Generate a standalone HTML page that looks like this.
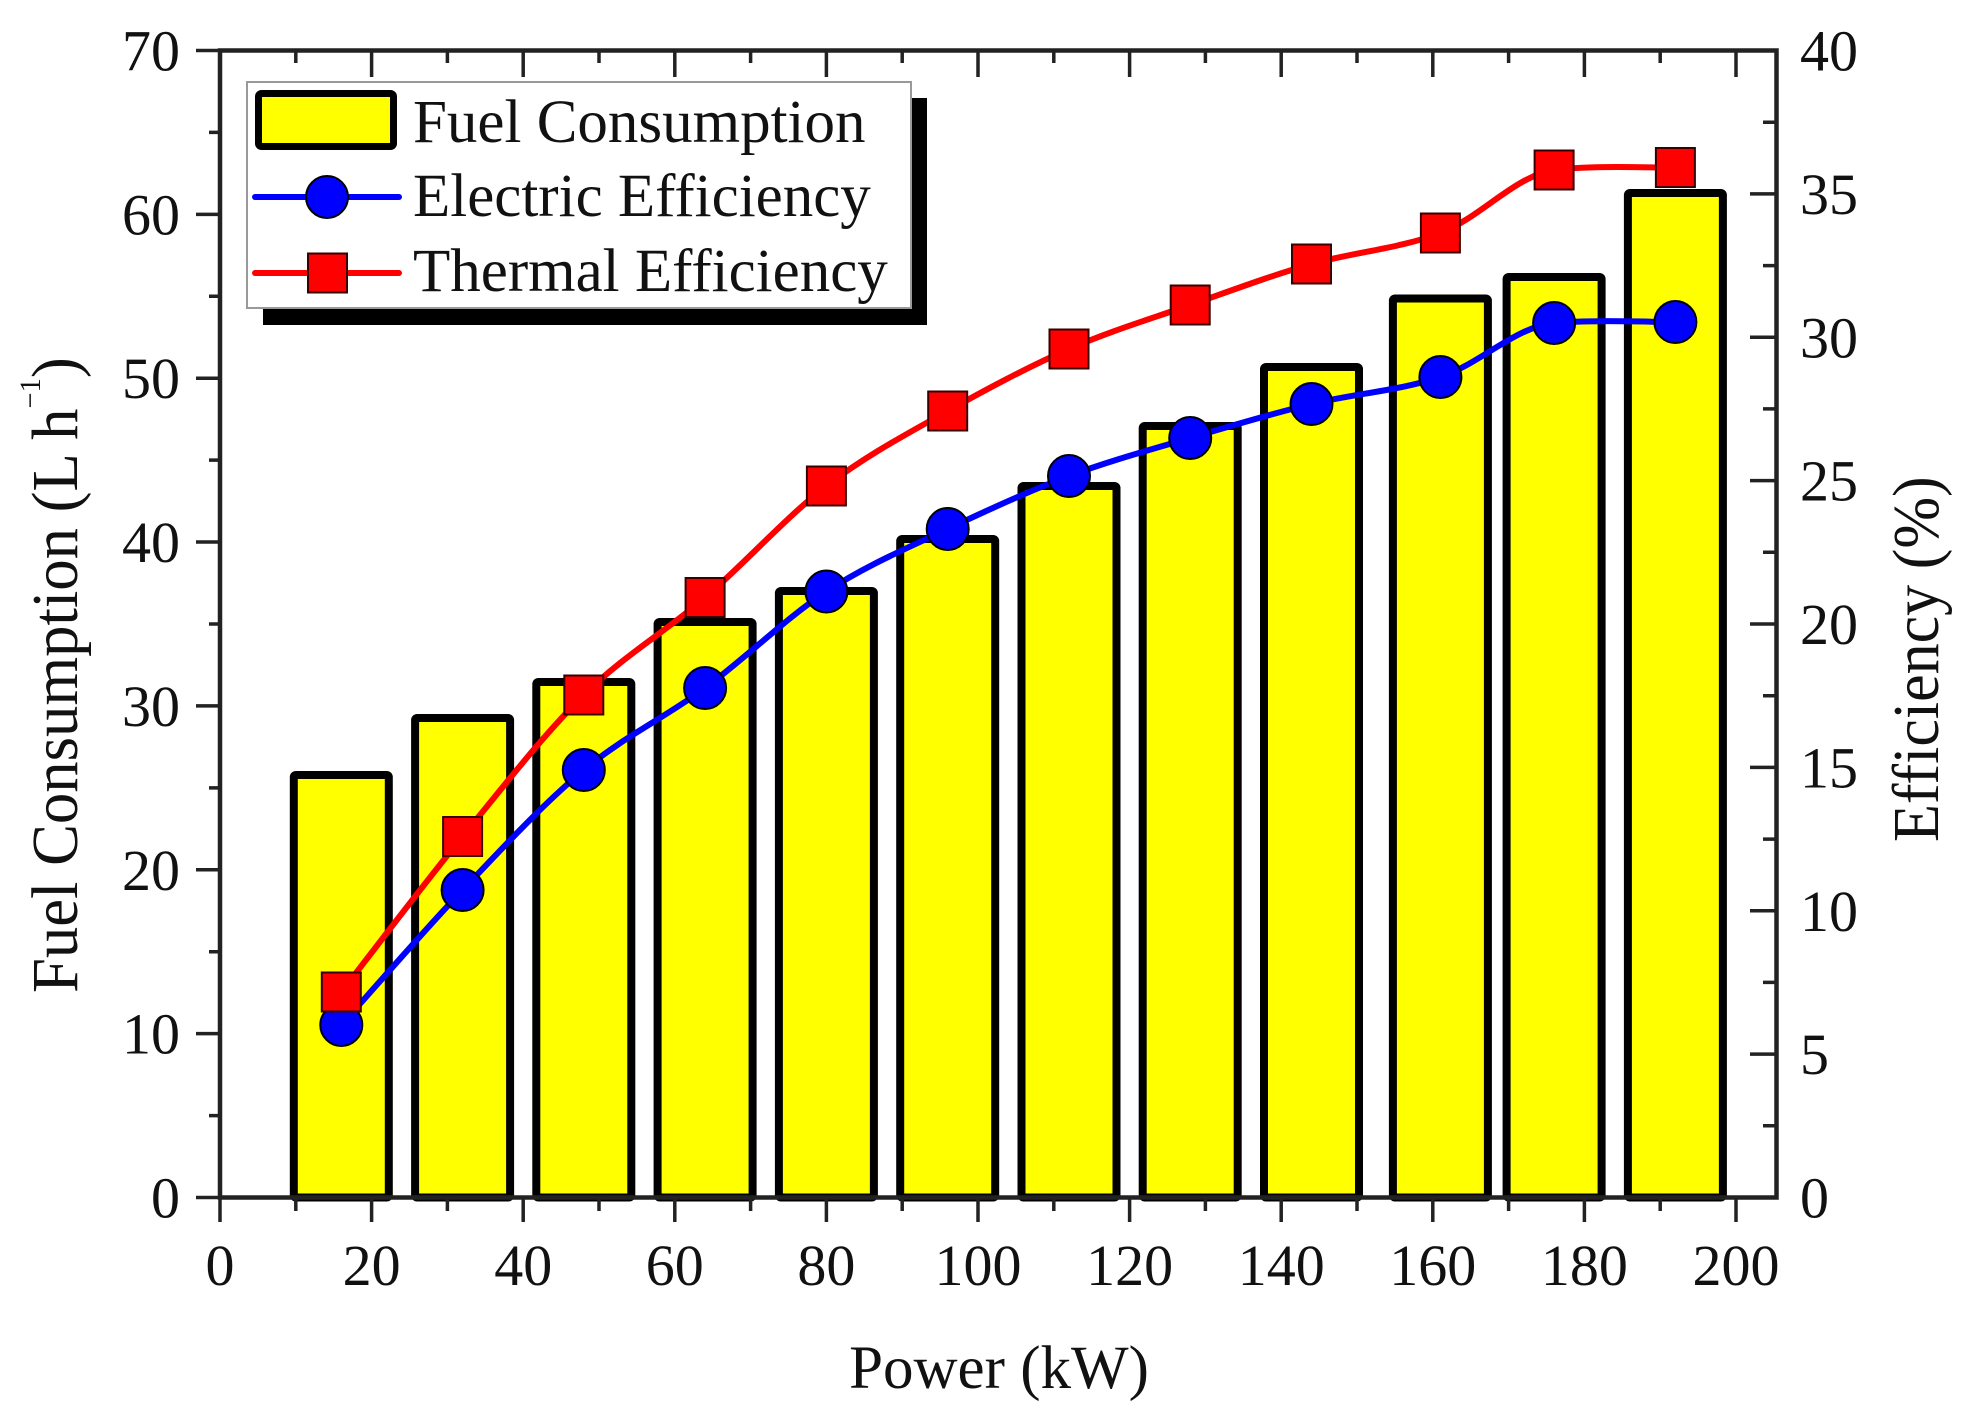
<!DOCTYPE html>
<html>
<head>
<meta charset="utf-8">
<style>
  html, body { margin:0; padding:0; background:#fff; }
  svg { display:block; }
  text { font-family: "Liberation Serif", "Times New Roman", serif; fill:#111; }
</style>
</head>
<body>
<svg width="1975" height="1420" viewBox="0 0 1975 1420" xmlns="http://www.w3.org/2000/svg">
  <rect x="0" y="0" width="1975" height="1420" fill="#fff"/>

  <!-- Bars -->
  <g fill="#ffff00" stroke="#000" stroke-width="8" stroke-linejoin="round">
    <rect x="293.8" y="775" width="95" height="422.5" rx="2"/>
    <rect x="415.1" y="718" width="95" height="479.5" rx="2"/>
    <rect x="536.3" y="682" width="95" height="515.5" rx="2"/>
    <rect x="657.6" y="622" width="95" height="575.5" rx="2"/>
    <rect x="778.9" y="591" width="95" height="606.5" rx="2"/>
    <rect x="900.2" y="539" width="95" height="658.5" rx="2"/>
    <rect x="1021.5" y="486" width="95" height="711.5" rx="2"/>
    <rect x="1142.7" y="426" width="95" height="771.5" rx="2"/>
    <rect x="1264.0" y="367" width="95" height="830.5" rx="2"/>
    <rect x="1392.9" y="298.5" width="95" height="899" rx="2"/>
    <rect x="1506.6" y="277" width="95" height="920.5" rx="2"/>
    <rect x="1627.9" y="193" width="95" height="1004.5" rx="2"/>
  </g>

  <!-- Electric efficiency line -->
  <path fill="none" stroke="#0000ff" stroke-width="6" stroke-linecap="round" stroke-linejoin="round"
    d="M341.3 1025
       C361.5 1002.5 422.2 932.5 462.6 890
       C503.0 847.5 543.4 803.7 583.8 770
       C624.2 736.3 664.7 717.75 705.1 688
       C745.5 658.25 786.0 618 826.4 591.5
       C866.8 565 907.3 548.25 947.7 529
       C988.1 509.75 1028.6 491.17 1069.0 476
       C1109.4 460.83 1149.8 450 1190.2 438
       C1230.6 426 1269.8 414.17 1311.5 404
       C1353.2 393.83 1400.0 390.5 1440.4 377
       C1480.8 363.5 1514.9 327 1554.1 323
       C1593.3 319.5 1655.2 322.17 1675.4 322"/>
  <g fill="#0000ff" stroke="#000" stroke-width="2">
    <circle cx="341.3" cy="1025" r="21"/>
    <circle cx="462.6" cy="890" r="21"/>
    <circle cx="583.8" cy="770" r="21"/>
    <circle cx="705.1" cy="688" r="21"/>
    <circle cx="826.4" cy="591.5" r="21"/>
    <circle cx="947.7" cy="529" r="21"/>
    <circle cx="1069.0" cy="476" r="21"/>
    <circle cx="1190.2" cy="438" r="21"/>
    <circle cx="1311.5" cy="404" r="21"/>
    <circle cx="1440.4" cy="377" r="21"/>
    <circle cx="1554.1" cy="323" r="21"/>
    <circle cx="1675.4" cy="322" r="21"/>
  </g>

  <!-- Thermal efficiency line -->
  <path fill="none" stroke="#ff0000" stroke-width="6" stroke-linecap="round" stroke-linejoin="round"
    d="M341.3 992
       C361.5 966.08 422.2 886 462.6 836.5
       C503.0 787 543.4 734.83 583.8 695
       C624.2 655.17 664.7 632.33 705.1 597.5
       C745.5 562.67 786.0 517.08 826.4 486
       C866.8 454.92 907.3 433.83 947.7 411
       C988.1 388.17 1028.6 366.67 1069.0 349
       C1109.4 331.33 1149.8 319.17 1190.2 305
       C1230.6 290.83 1269.8 276 1311.5 264
       C1353.2 252 1400.0 248.67 1440.4 233
       C1480.8 217.33 1514.9 176 1554.1 170
       C1593.3 165 1655.2 167.9 1675.4 167.5"/>
  <g fill="#ff0000" stroke="#3a0000" stroke-width="2">
    <rect x="321.8" y="972.5" width="39" height="39"/>
    <rect x="443.1" y="817" width="39" height="39"/>
    <rect x="564.3" y="675.5" width="39" height="39"/>
    <rect x="685.6" y="578" width="39" height="39"/>
    <rect x="806.9" y="466.5" width="39" height="39"/>
    <rect x="928.2" y="391.5" width="39" height="39"/>
    <rect x="1049.5" y="329.5" width="39" height="39"/>
    <rect x="1170.7" y="285.5" width="39" height="39"/>
    <rect x="1292.0" y="244.5" width="39" height="39"/>
    <rect x="1420.9" y="213.5" width="39" height="39"/>
    <rect x="1534.6" y="150.5" width="39" height="39"/>
    <rect x="1655.9" y="148" width="39" height="39"/>
  </g>

  <!-- Axes frame -->
  <rect x="220" y="50.5" width="1556.5" height="1147" fill="none" stroke="#222" stroke-width="4.5"/>

  <!-- Ticks -->
  <g stroke="#222" stroke-width="3.5" fill="none">
    <path d="M196 1197.5H220 M196 1033.64H220 M196 869.78H220 M196 705.92H220 M196 542.06H220 M196 378.2H220 M196 214.34H220 M196 50.5H220"/>
    <path d="M209 1115.57H220 M209 951.71H220 M209 787.85H220 M209 623.99H220 M209 460.13H220 M209 296.27H220 M209 132.41H220"/>
    <path d="M1750 1197.5H1776.5 M1750 1054.1H1776.5 M1750 910.75H1776.5 M1750 767.4H1776.5 M1750 624H1776.5 M1750 480.6H1776.5 M1750 337.25H1776.5 M1750 193.9H1776.5 M1750 50.5H1776.5"/>
    <path d="M1763 1125.8H1776.5 M1763 982.4H1776.5 M1763 839.1H1776.5 M1763 695.7H1776.5 M1763 552.3H1776.5 M1763 408.9H1776.5 M1763 265.6H1776.5 M1763 122.2H1776.5"/>
    <path d="M220 1197.5V1222 M371.6 1197.5V1222 M523.2 1197.5V1222 M674.8 1197.5V1222 M826.4 1197.5V1222 M978 1197.5V1222 M1129.6 1197.5V1222 M1281.2 1197.5V1222 M1432.8 1197.5V1222 M1584.4 1197.5V1222 M1736 1197.5V1222"/>
    <path d="M295.8 1197.5V1211 M447.4 1197.5V1211 M599 1197.5V1211 M750.6 1197.5V1211 M902.2 1197.5V1211 M1053.8 1197.5V1211 M1205.4 1197.5V1211 M1357 1197.5V1211 M1508.6 1197.5V1211 M1660.2 1197.5V1211"/>
    <path d="M371.6 50.5V77 M523.2 50.5V77 M674.8 50.5V77 M826.4 50.5V77 M978 50.5V77 M1129.6 50.5V77 M1281.2 50.5V77 M1432.8 50.5V77 M1584.4 50.5V77 M1736 50.5V77"/>
    <path d="M295.8 50.5V63 M447.4 50.5V63 M599 50.5V63 M750.6 50.5V63 M902.2 50.5V63 M1053.8 50.5V63 M1205.4 50.5V63 M1357 50.5V63 M1508.6 50.5V63 M1660.2 50.5V63"/>
  </g>

  <!-- Left tick labels -->
  <g font-size="58" text-anchor="end">
    <text x="180" y="1217.5">0</text>
    <text x="180" y="1053.6">10</text>
    <text x="180" y="889.8">20</text>
    <text x="180" y="725.9">30</text>
    <text x="180" y="562.1">40</text>
    <text x="180" y="398.2">50</text>
    <text x="180" y="234.3">60</text>
    <text x="180" y="70.5">70</text>
  </g>

  <!-- Right tick labels -->
  <g font-size="58" text-anchor="start">
    <text x="1800" y="1217.5">0</text>
    <text x="1800" y="1074.1">5</text>
    <text x="1800" y="930.8">10</text>
    <text x="1800" y="787.4">15</text>
    <text x="1800" y="644">20</text>
    <text x="1800" y="500.6">25</text>
    <text x="1800" y="357.3">30</text>
    <text x="1800" y="213.9">35</text>
    <text x="1800" y="70.5">40</text>
  </g>

  <!-- Bottom tick labels -->
  <g font-size="58" text-anchor="middle">
    <text x="220" y="1285">0</text>
    <text x="371.6" y="1285">20</text>
    <text x="523.2" y="1285">40</text>
    <text x="674.8" y="1285">60</text>
    <text x="826.4" y="1285">80</text>
    <text x="978" y="1285">100</text>
    <text x="1129.6" y="1285">120</text>
    <text x="1281.2" y="1285">140</text>
    <text x="1432.8" y="1285">160</text>
    <text x="1584.4" y="1285">180</text>
    <text x="1736" y="1285">200</text>
  </g>

  <!-- Axis titles -->
  <text x="999" y="1388" font-size="61" text-anchor="middle">Power (kW)</text>
  <text transform="translate(77,993) rotate(-90) scale(0.95,1)" font-size="66">Fuel Consumption (L h<tspan dy="-37" font-size="30">−1</tspan><tspan dy="37">)</tspan></text>
  <text transform="translate(1938,842) rotate(-90) scale(0.94,1)" font-size="66">Efficiency (%)</text>

  <!-- Legend -->
  <rect x="263" y="98" width="664" height="227" fill="#000"/>
  <rect x="247" y="82" width="664" height="226" fill="#fff" stroke="#999" stroke-width="2"/>
  <rect x="258.5" y="93.5" width="135" height="53" rx="3" fill="#ffff00" stroke="#000" stroke-width="7"/>
  <line x1="255" y1="197" x2="399" y2="197" stroke="#0000ff" stroke-width="6" stroke-linecap="round"/>
  <circle cx="327" cy="197" r="21" fill="#0000ff" stroke="#000" stroke-width="2"/>
  <line x1="255" y1="273" x2="399" y2="273" stroke="#ff0000" stroke-width="6" stroke-linecap="round"/>
  <rect x="308" y="253.5" width="39" height="39" fill="#ff0000" stroke="#3a0000" stroke-width="2"/>
  <g font-size="61">
    <text x="413" y="142">Fuel Consumption</text>
    <text x="413" y="216">Electric Efficiency</text>
    <text x="413" y="291">Thermal Efficiency</text>
  </g>
</svg>
</body>
</html>
